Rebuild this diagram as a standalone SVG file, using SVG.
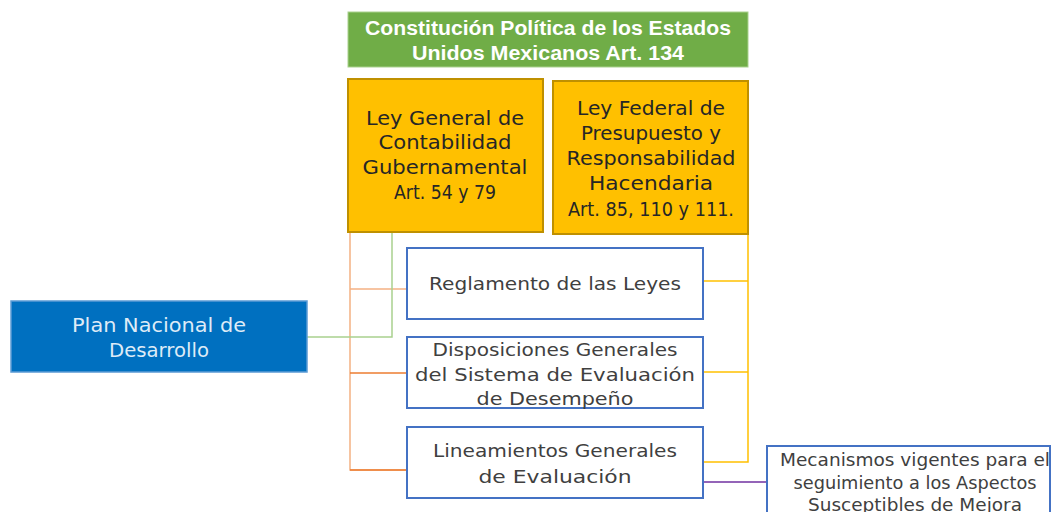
<svg xmlns="http://www.w3.org/2000/svg" width="1052" height="512" viewBox="0 0 1052 512">
<style>
.t{font-family:"DejaVu Sans","Liberation Sans",sans-serif;text-anchor:middle}
.hd{font-family:"Liberation Sans",sans-serif;font-weight:bold;font-size:20px;fill:#ffffff;text-anchor:middle}
.or{fill:#FFC000;stroke:#BF9000;stroke-width:2}
.bl{fill:#ffffff;stroke:#4472C4;stroke-width:2}
.dk{fill:#262626;font-size:19px}
.gy{fill:#404040;font-size:18px}
.c{fill:none;stroke-width:1.5}
</style>
<rect width="1052" height="512" fill="#ffffff"/>
<g id="connectors">
<polyline class="c" stroke="#F4B183" points="350,232 350,470 407,470"/>
<line class="c" stroke="#F4B183" x1="350" y1="289" x2="407" y2="289"/>
<line class="c" stroke="#ED7D31" x1="350" y1="373" x2="407" y2="373"/>
<line class="c" stroke="#ED7D31" x1="350" y1="470" x2="407" y2="470"/>
<polyline class="c" stroke="#A9D18E" points="392,232 392,337 307,337"/>
<polyline class="c" stroke="#FFC000" points="748,234 748,462 703,462"/>
<line class="c" stroke="#FFC000" x1="703" y1="281" x2="748" y2="281"/>
<line class="c" stroke="#FFC000" x1="703" y1="372" x2="748" y2="372"/>
<line class="c" stroke="#7030A0" stroke-width="2" x1="703" y1="482" x2="767" y2="482"/>
</g>
<g id="constitucion">
<rect x="348" y="12" width="400" height="55" fill="#70AD47" stroke="#A9D18E" stroke-width="1"/>
<text class="hd" x="548" y="35" textLength="366" lengthAdjust="spacingAndGlyphs">Constitución Política de los Estados</text>
<text class="hd" x="548" y="60" textLength="272" lengthAdjust="spacingAndGlyphs">Unidos Mexicanos Art. 134</text>
</g>
<g id="ley-general">
<rect class="or" x="348" y="79" width="195" height="153"/>
<text class="t dk" x="445" y="125" textLength="158" lengthAdjust="spacingAndGlyphs">Ley General de</text>
<text class="t dk" x="445" y="149" textLength="133" lengthAdjust="spacingAndGlyphs">Contabilidad</text>
<text class="t dk" x="445" y="174" textLength="165" lengthAdjust="spacingAndGlyphs">Gubernamental</text>
<text class="t dk" x="445" y="199" textLength="102" lengthAdjust="spacingAndGlyphs">Art. 54 y 79</text>
</g>
<g id="ley-federal">
<rect class="or" x="553" y="81" width="195" height="153"/>
<text class="t dk" x="651" y="115" textLength="148" lengthAdjust="spacingAndGlyphs">Ley Federal de</text>
<text class="t dk" x="651" y="140" textLength="140" lengthAdjust="spacingAndGlyphs">Presupuesto y</text>
<text class="t dk" x="651" y="165" textLength="169" lengthAdjust="spacingAndGlyphs">Responsabilidad</text>
<text class="t dk" x="651" y="190" textLength="124" lengthAdjust="spacingAndGlyphs">Hacendaria</text>
<text class="t dk" x="651" y="216" textLength="166" lengthAdjust="spacingAndGlyphs">Art. 85, 110 y 111.</text>
</g>
<g id="plan">
<rect x="11" y="301" width="296" height="71" fill="#0070C0" stroke="#5B9BD5" stroke-width="1.5"/>
<text class="t" x="159" y="332" font-size="19" fill="#DEEBF7" textLength="174" lengthAdjust="spacingAndGlyphs">Plan Nacional de</text>
<text class="t" x="159" y="357" font-size="19" fill="#DEEBF7" textLength="100" lengthAdjust="spacingAndGlyphs">Desarrollo</text>
</g>
<g id="reglamento">
<rect class="bl" x="407" y="248" width="296" height="71"/>
<text class="t gy" x="555" y="290" textLength="252" lengthAdjust="spacingAndGlyphs">Reglamento de las Leyes</text>
</g>
<g id="disposiciones">
<rect class="bl" x="407" y="337" width="296" height="71"/>
<text class="t gy" x="555" y="356" textLength="245" lengthAdjust="spacingAndGlyphs">Disposiciones Generales</text>
<text class="t gy" x="555" y="381" textLength="280" lengthAdjust="spacingAndGlyphs">del Sistema de Evaluación</text>
<text class="t gy" x="555" y="405" textLength="157" lengthAdjust="spacingAndGlyphs">de Desempeño</text>
</g>
<g id="lineamientos">
<rect class="bl" x="407" y="427" width="296" height="71"/>
<text class="t gy" x="555" y="457" textLength="244" lengthAdjust="spacingAndGlyphs">Lineamientos Generales</text>
<text class="t gy" x="555" y="483" textLength="153" lengthAdjust="spacingAndGlyphs">de  Evaluación</text>
</g>
<g id="mecanismos">
<rect class="bl" x="767" y="446" width="283" height="80"/>
<text class="t gy" x="915" y="466" font-size="17" textLength="270" lengthAdjust="spacingAndGlyphs">Mecanismos vigentes para el</text>
<text class="t gy" x="915" y="489" font-size="17" textLength="243" lengthAdjust="spacingAndGlyphs">seguimiento a los Aspectos</text>
<text class="t gy" x="915" y="511" font-size="17" textLength="214" lengthAdjust="spacingAndGlyphs">Susceptibles de Mejora</text>
</g>
</svg>
